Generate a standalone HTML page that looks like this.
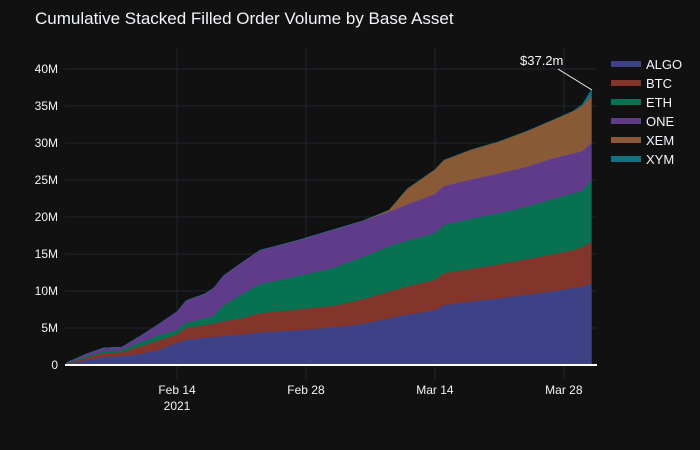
<!DOCTYPE html>
<html><head><meta charset="utf-8">
<style>
body{margin:0;background:#111111;}
svg{display:block;font-family:"Liberation Sans",Arial,sans-serif;}
</style></head>
<body>
<svg id="chart" width="700" height="450" xmlns="http://www.w3.org/2000/svg">
<rect width="700" height="450" fill="#111111"/>
<text x="35" y="24" fill="#f2f5fa" font-size="17">Cumulative Stacked Filled Order Volume by Base Asset</text>
<g id="grid"></g><g id="areas"></g><g id="axes"></g><g id="legend"></g>
<text x="520" y="65" fill="#f2f5fa" font-size="13">$37.2m</text>
<line x1="558" y1="69" x2="592" y2="90" stroke="#f2f5fa" stroke-width="1"/>
</svg>
<script>
// days since Feb 2 2021
const days = [0,2,4,6,8,10,12,13,15,16,17,19,21,25,29,32,35,37,40,41,44,47,50,53,55,56,57];
const seriesNames = ["ALGO","BTC","ETH","ONE","XEM","XYM"];
const algo = [0.1,0.6,1.1,1.2,1.5,2.0,3.0,3.4,3.7,3.8,3.9,4.1,4.4,4.7,5.1,5.5,6.3,6.8,7.4,8.1,8.6,9.0,9.5,10.0,10.4,10.6,11.0];
const btc = [0.05,0.3,0.5,0.5,1.0,1.3,1.1,1.6,1.7,1.8,2.0,2.2,2.6,2.8,2.9,3.3,3.6,3.8,4.1,4.3,4.4,4.6,4.8,5.0,5.1,5.3,5.6];
const eth = [0.05,0.2,0.2,0.3,0.5,0.7,0.6,0.7,0.9,1.0,2.1,3.2,3.9,4.5,5.1,5.7,6.1,6.2,6.3,6.5,6.8,6.9,7.1,7.5,7.7,7.6,8.3];
const one = [0.1,0.3,0.5,0.4,0.9,1.5,2.5,3.0,3.3,3.8,4.0,4.3,4.6,4.8,5.2,4.9,4.7,4.9,5.3,5.3,5.3,5.4,5.4,5.5,5.4,5.4,5.1];
const xem = [0,0,0,0,0,0,0,0,0,0,0,0,0,0,0,0,0.2,2.1,3.3,3.5,4.0,4.3,4.8,5.2,5.7,6.1,6.3];
const xym = [0,0,0,0,0,0,0,0,0,0,0,0,0,0,0,0,0,0,0,0,0,0,0,0,0,0.2,0.9];
const yTicks = [0,5,10,15,20,25,30,35,40];
const xTickDays = [12,26,40,54];
const xTickLabels = ["Feb 14","Feb 28","Mar 14","Mar 28"];

const colors = ["#3d4287","#83342b","#077152","#5f3b8a","#8a5a37","#157080"];
const NS="http://www.w3.org/2000/svg";
const X0=65,X1=597,Y0=48,Y1=380;
const xs = d => 66.5 + d*9.21;
const ys = v => 365 - v*7.4;
function mk(tag,attrs,parent){const e=document.createElementNS(NS,tag);for(const k in attrs)e.setAttribute(k,attrs[k]);parent.appendChild(e);return e;}
const grid=document.getElementById('grid'),areas=document.getElementById('areas'),axes=document.getElementById('axes'),legend=document.getElementById('legend');
yTicks.forEach(t=>{
  const y=ys(t);
  if(t!==0){const l=mk('line',{x1:X0,x2:X1,y1:y,y2:y,stroke:'#1f2630','stroke-width':1},grid);
  
  }
  const tx=mk('text',{x:58,y:y+4,fill:'#f2f5fa','font-size':12,'text-anchor':'end'},axes);
  tx.textContent=t===0?'0':t+'M';
  
  
});
xTickDays.forEach((d,i)=>{
  const x=xs(d);
  const l=mk('line',{x1:x,x2:x,y1:Y0,y2:Y1,stroke:'#1f2630','stroke-width':1},grid);
  
  
  const tx=mk('text',{x:x,y:394,fill:'#f2f5fa','font-size':12,'text-anchor':'middle'},axes);
  tx.textContent=xTickLabels[i];
  
  
});
const yr=mk('text',{x:xs(12),y:410,fill:'#f2f5fa','font-size':12,'text-anchor':'middle'},axes);
yr.textContent='2021';



const all=[algo,btc,eth,one,xem,xym];
let base=days.map(()=>0);
all.forEach((s,si)=>{
  const top=base.map((b,i)=>b+s[i]);
  let d='M'+days.map((dd,i)=>xs(dd)+','+ys(top[i])).join(' L');
  for(let i=days.length-1;i>=0;i--) d+=' L'+xs(days[i])+','+ys(base[i]);
  d+=' Z';
  const p=mk('path',{d:d,fill:colors[si],stroke:colors[si],'stroke-width':0.5},areas);
  
  
  base=top;
});
const zl=mk('line',{x1:X0,x2:X1,y1:ys(0),y2:ys(0),stroke:'#ffffff','stroke-width':2},axes);



seriesNames.forEach((n,i)=>{
  const y=64+i*19;
  const g=mk('g',{},legend);
  
  
  mk('rect',{x:611,y:y-3,width:30,height:6,fill:colors[i]},g);
  const t=mk('text',{x:646,y:y+5,fill:'#f2f5fa','font-size':13},g);
  t.textContent=n;
});
</script>
</body></html>
